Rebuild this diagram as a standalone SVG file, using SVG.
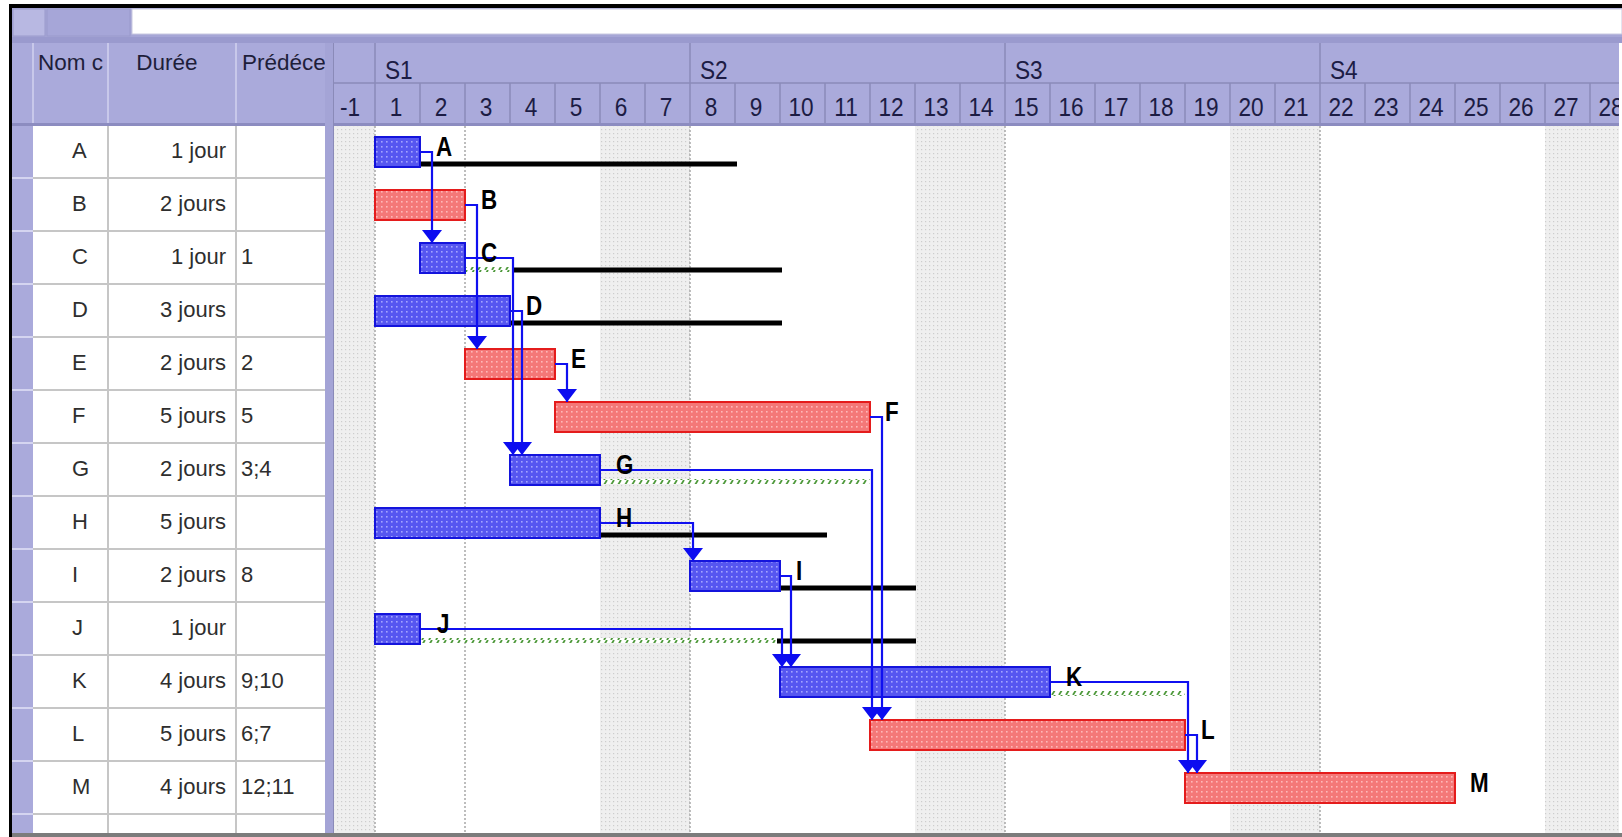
<svg xmlns="http://www.w3.org/2000/svg" width="1622" height="837" viewBox="0 0 1622 837">
<style>
  .cell{font-family:"Liberation Sans",Arial,sans-serif;font-size:22px;fill:#2e2e2e}
  .hdr{font-family:"Liberation Sans",Arial,sans-serif;font-size:22.5px;fill:#1e1e3a}
  .ts{font-family:"Liberation Sans",Arial,sans-serif;font-size:26px;fill:#1c1c44}
  .lbl{font-family:"Liberation Sans",Arial,sans-serif;font-size:28px;font-weight:bold;fill:#000}
  .bb{fill:url(#blueDots);stroke:#1414dc;stroke-width:2}
  .rb{fill:url(#redDots);stroke:#e41c1c;stroke-width:2}
  .slack{stroke:#000;stroke-width:5}
  .free{fill:url(#freeSlack)}
  .link{fill:none;stroke:#1010f0;stroke-width:2.2;marker-end:url(#arr)}
  .grid{stroke:#c6c6c6;stroke-width:2}
  .wk{fill:url(#weekend)}
  .dot{stroke:#a8a8a8;stroke-width:1.5;stroke-dasharray:2 2}
  .purple{fill:#aaaadb}
  .tick{stroke:#8a8ab8;stroke-width:1.5}
</style>
<defs>
  <pattern id="blueDots" width="5" height="5" patternUnits="userSpaceOnUse">
    <rect width="5" height="5" fill="#5656f0"/>
    <rect x="1" y="1" width="1.6" height="1.6" fill="#a4a4ff"/>
  </pattern>
  <pattern id="redDots" width="5" height="5" patternUnits="userSpaceOnUse">
    <rect width="5" height="5" fill="#f47878"/>
    <rect x="1" y="1" width="1.6" height="1.6" fill="#ffb8b8"/>
  </pattern>
  <pattern id="weekend" width="4" height="4" patternUnits="userSpaceOnUse">
    <rect width="4" height="4" fill="#efefef"/>
    <rect x="1" y="1" width="1.2" height="1.2" fill="#cdcdcd"/>
  </pattern>
  <pattern id="freeSlack" width="7" height="5" patternUnits="userSpaceOnUse">
    <rect width="7" height="5" fill="#ffffff"/>
    <path d="M2 5 L5 0" stroke="#4f9a3c" stroke-width="1.8"/>
  </pattern>
  <marker id="arr" viewBox="0 0 13 20" markerWidth="13" markerHeight="20" refX="13" refY="10" orient="auto" markerUnits="userSpaceOnUse">
    <path d="M0 0 L13 10 L0 20 Z" fill="#0c0cf0"/>
  </marker>
  <clipPath id="clipPred"><rect x="236" y="43" width="89" height="80"/></clipPath>
  <clipPath id="clipName"><rect x="33" y="43" width="74" height="80"/></clipPath>
  <clipPath id="clipGantt"><rect x="334" y="0" width="1285" height="837"/></clipPath>
</defs>

<rect width="1622" height="837" fill="#ffffff"/>

<!-- window frame and entry bar -->
<g id="frame">
  <rect x="9" y="4" width="1613" height="4" fill="#000"/>
  <rect x="9" y="4" width="3" height="833" fill="#000"/>
  <rect x="12" y="8" width="1610" height="35" fill="#a6a6d6"/>
  <rect x="13" y="9" width="32" height="27" fill="#b8b8e2" stroke="#9a9acc" stroke-width="1"/>
  <rect x="47" y="9" width="83" height="27" fill="#a6a6d8" stroke="#9a9acc" stroke-width="1"/>
  <rect x="132" y="9" width="1490" height="25" fill="#ffffff" stroke="#c8c8e0" stroke-width="1"/>
  <rect x="12" y="37" width="1610" height="6" fill="#9a9ace"/>
  <rect x="12" y="833" width="1610" height="4" fill="#7c7c7c"/>
</g>

<!-- task table -->
<g id="table">
  <rect x="12" y="43" width="313" height="80" class="purple"/>
  <rect x="12" y="123" width="313" height="3" fill="#8c8cc0"/>
  <g stroke="#c8c8ea" stroke-width="2">
    <line x1="33" y1="43" x2="33" y2="123"/>
    <line x1="108" y1="43" x2="108" y2="123"/>
    <line x1="236" y1="43" x2="236" y2="123"/>
  </g>
  <text class="hdr" x="38" y="70" clip-path="url(#clipName)">Nom c</text>
  <text class="hdr" x="167" y="70" text-anchor="middle">Durée</text>
  <text class="hdr" x="242" y="70" clip-path="url(#clipPred)">Prédéce</text>

  <rect x="12" y="126" width="21" height="707" class="purple"/>
  <g stroke="#d4d4f0" stroke-width="2">
    <line x1="12" y1="178" x2="33" y2="178"/><line x1="12" y1="231" x2="33" y2="231"/>
    <line x1="12" y1="284" x2="33" y2="284"/><line x1="12" y1="337" x2="33" y2="337"/>
    <line x1="12" y1="390" x2="33" y2="390"/><line x1="12" y1="443" x2="33" y2="443"/>
    <line x1="12" y1="496" x2="33" y2="496"/><line x1="12" y1="549" x2="33" y2="549"/>
    <line x1="12" y1="602" x2="33" y2="602"/><line x1="12" y1="655" x2="33" y2="655"/>
    <line x1="12" y1="708" x2="33" y2="708"/><line x1="12" y1="761" x2="33" y2="761"/>
    <line x1="12" y1="814" x2="33" y2="814"/>
  </g>
  <g class="grid">
    <line x1="108" y1="126" x2="108" y2="833"/>
    <line x1="236" y1="126" x2="236" y2="833"/>
    <line x1="33" y1="178" x2="325" y2="178"/><line x1="33" y1="231" x2="325" y2="231"/>
    <line x1="33" y1="284" x2="325" y2="284"/><line x1="33" y1="337" x2="325" y2="337"/>
    <line x1="33" y1="390" x2="325" y2="390"/><line x1="33" y1="443" x2="325" y2="443"/>
    <line x1="33" y1="496" x2="325" y2="496"/><line x1="33" y1="549" x2="325" y2="549"/>
    <line x1="33" y1="602" x2="325" y2="602"/><line x1="33" y1="655" x2="325" y2="655"/>
    <line x1="33" y1="708" x2="325" y2="708"/><line x1="33" y1="761" x2="325" y2="761"/>
    <line x1="33" y1="814" x2="325" y2="814"/>
  </g>
  <g class="cell">
    <text x="72" y="158">A</text><text x="226" y="158" text-anchor="end">1 jour</text>
    <text x="72" y="211">B</text><text x="226" y="211" text-anchor="end">2 jours</text>
    <text x="72" y="264">C</text><text x="226" y="264" text-anchor="end">1 jour</text><text x="241" y="264">1</text>
    <text x="72" y="317">D</text><text x="226" y="317" text-anchor="end">3 jours</text>
    <text x="72" y="370">E</text><text x="226" y="370" text-anchor="end">2 jours</text><text x="241" y="370">2</text>
    <text x="72" y="423">F</text><text x="226" y="423" text-anchor="end">5 jours</text><text x="241" y="423">5</text>
    <text x="72" y="476">G</text><text x="226" y="476" text-anchor="end">2 jours</text><text x="241" y="476">3;4</text>
    <text x="72" y="529">H</text><text x="226" y="529" text-anchor="end">5 jours</text>
    <text x="72" y="582">I</text><text x="226" y="582" text-anchor="end">2 jours</text><text x="241" y="582">8</text>
    <text x="72" y="635">J</text><text x="226" y="635" text-anchor="end">1 jour</text>
    <text x="72" y="688">K</text><text x="226" y="688" text-anchor="end">4 jours</text><text x="241" y="688">9;10</text>
    <text x="72" y="741">L</text><text x="226" y="741" text-anchor="end">5 jours</text><text x="241" y="741">6;7</text>
    <text x="72" y="794">M</text><text x="226" y="794" text-anchor="end">4 jours</text><text x="241" y="794">12;11</text>
  </g>
</g>

<!-- splitter between table and chart -->
<g id="splitter">
  <rect x="325" y="43" width="9" height="790" fill="#a4a4d6"/>
  <line x1="333.5" y1="43" x2="333.5" y2="833" stroke="#8a8ab8" stroke-width="1"/>
</g>

<g clip-path="url(#clipGantt)">
<!-- timescale -->
<g id="timescale">
  <rect x="334" y="43" width="1288" height="80" class="purple"/>
  <rect x="334" y="123" width="1288" height="3" fill="#8c8cc0"/>
  <line x1="334" y1="83" x2="1622" y2="83" class="tick"/>
  <g class="tick">
    <line x1="375" y1="43" x2="375" y2="123"/><line x1="690" y1="43" x2="690" y2="123"/>
    <line x1="1005" y1="43" x2="1005" y2="123"/><line x1="1320" y1="43" x2="1320" y2="123"/>
    <line x1="420" y1="83" x2="420" y2="123"/><line x1="465" y1="83" x2="465" y2="123"/>
    <line x1="510" y1="83" x2="510" y2="123"/><line x1="555" y1="83" x2="555" y2="123"/>
    <line x1="600" y1="83" x2="600" y2="123"/><line x1="645" y1="83" x2="645" y2="123"/>
    <line x1="735" y1="83" x2="735" y2="123"/><line x1="780" y1="83" x2="780" y2="123"/>
    <line x1="825" y1="83" x2="825" y2="123"/><line x1="870" y1="83" x2="870" y2="123"/>
    <line x1="915" y1="83" x2="915" y2="123"/><line x1="960" y1="83" x2="960" y2="123"/>
    <line x1="1050" y1="83" x2="1050" y2="123"/><line x1="1095" y1="83" x2="1095" y2="123"/>
    <line x1="1140" y1="83" x2="1140" y2="123"/><line x1="1185" y1="83" x2="1185" y2="123"/>
    <line x1="1230" y1="83" x2="1230" y2="123"/><line x1="1275" y1="83" x2="1275" y2="123"/>
    <line x1="1365" y1="83" x2="1365" y2="123"/><line x1="1410" y1="83" x2="1410" y2="123"/>
    <line x1="1455" y1="83" x2="1455" y2="123"/><line x1="1500" y1="83" x2="1500" y2="123"/>
    <line x1="1545" y1="83" x2="1545" y2="123"/><line x1="1590" y1="83" x2="1590" y2="123"/>
  </g>
  <g class="ts">
    <text transform="translate(385 79) scale(.87 1)">S1</text>
    <text transform="translate(700 79) scale(.87 1)">S2</text>
    <text transform="translate(1015 79) scale(.87 1)">S3</text>
    <text transform="translate(1330 79) scale(.87 1)">S4</text>
  </g>
  <g class="ts" text-anchor="middle">
    <text transform="translate(350 116) scale(.87 1)">-1</text>
    <text transform="translate(396 116) scale(.87 1)">1</text>
    <text transform="translate(441 116) scale(.87 1)">2</text>
    <text transform="translate(486 116) scale(.87 1)">3</text>
    <text transform="translate(531 116) scale(.87 1)">4</text>
    <text transform="translate(576 116) scale(.87 1)">5</text>
    <text transform="translate(621 116) scale(.87 1)">6</text>
    <text transform="translate(666 116) scale(.87 1)">7</text>
    <text transform="translate(711 116) scale(.87 1)">8</text>
    <text transform="translate(756 116) scale(.87 1)">9</text>
    <text transform="translate(801 116) scale(.87 1)">10</text>
    <text transform="translate(846 116) scale(.87 1)">11</text>
    <text transform="translate(891 116) scale(.87 1)">12</text>
    <text transform="translate(936 116) scale(.87 1)">13</text>
    <text transform="translate(981 116) scale(.87 1)">14</text>
    <text transform="translate(1026 116) scale(.87 1)">15</text>
    <text transform="translate(1071 116) scale(.87 1)">16</text>
    <text transform="translate(1116 116) scale(.87 1)">17</text>
    <text transform="translate(1161 116) scale(.87 1)">18</text>
    <text transform="translate(1206 116) scale(.87 1)">19</text>
    <text transform="translate(1251 116) scale(.87 1)">20</text>
    <text transform="translate(1296 116) scale(.87 1)">21</text>
    <text transform="translate(1341 116) scale(.87 1)">22</text>
    <text transform="translate(1386 116) scale(.87 1)">23</text>
    <text transform="translate(1431 116) scale(.87 1)">24</text>
    <text transform="translate(1476 116) scale(.87 1)">25</text>
    <text transform="translate(1521 116) scale(.87 1)">26</text>
    <text transform="translate(1566 116) scale(.87 1)">27</text>
    <text transform="translate(1611 116) scale(.87 1)">28</text>
  </g>
</g>

<!-- non-working days and date lines -->
<g id="calendar">
  <rect x="334" y="126" width="41" height="707" class="wk"/>
  <rect x="600" y="126" width="90" height="707" class="wk"/>
  <rect x="915" y="126" width="90" height="707" class="wk"/>
  <rect x="1230" y="126" width="90" height="707" class="wk"/>
  <rect x="1545" y="126" width="77" height="707" class="wk"/>
  <line x1="375" y1="126" x2="375" y2="833" class="dot"/>
  <line x1="465" y1="126" x2="465" y2="833" class="dot"/>
  <line x1="690" y1="126" x2="690" y2="833" class="dot"/>
  <line x1="1005" y1="126" x2="1005" y2="833" class="dot"/>
  <line x1="1320" y1="126" x2="1320" y2="833" class="dot"/>
</g>

<!-- slack lines -->
<g id="slack">
  <line x1="420" y1="164" x2="737" y2="164" class="slack"/>
  <rect x="465" y="267" width="47" height="5" class="free"/>
  <line x1="512" y1="270" x2="782" y2="270" class="slack"/>
  <line x1="510" y1="323" x2="782" y2="323" class="slack"/>
  <rect x="600" y="479" width="270" height="5" class="free"/>
  <line x1="600" y1="535" x2="827" y2="535" class="slack"/>
  <line x1="780" y1="588" x2="916" y2="588" class="slack"/>
  <rect x="420" y="638" width="357" height="5" class="free"/>
  <line x1="777" y1="641" x2="916" y2="641" class="slack"/>
  <rect x="1050" y="691" width="135" height="5" class="free"/>
</g>

<!-- task bars -->
<g id="task-A"><rect x="375" y="137" width="45" height="30" class="bb"/></g>
<g id="task-B"><rect x="375" y="190" width="90" height="30" class="rb"/></g>
<g id="task-C"><rect x="420" y="243" width="45" height="30" class="bb"/></g>
<g id="task-D"><rect x="375" y="296" width="135" height="30" class="bb"/></g>
<g id="task-E"><rect x="465" y="349" width="90" height="30" class="rb"/></g>
<g id="task-F"><rect x="555" y="402" width="315" height="30" class="rb"/></g>
<g id="task-G"><rect x="510" y="455" width="90" height="30" class="bb"/></g>
<g id="task-H"><rect x="375" y="508" width="225" height="30" class="bb"/></g>
<g id="task-I"><rect x="690" y="561" width="90" height="30" class="bb"/></g>
<g id="task-J"><rect x="375" y="614" width="45" height="30" class="bb"/></g>
<g id="task-K"><rect x="780" y="667" width="270" height="30" class="bb"/></g>
<g id="task-L"><rect x="870" y="720" width="315" height="30" class="rb"/></g>
<g id="task-M"><rect x="1185" y="773" width="270" height="30" class="rb"/></g>

<!-- finish-to-start links -->
<g id="connectors">
  <path class="link" d="M420 152 H432 V243"/>
  <path class="link" d="M465 205 H477 V349"/>
  <path class="link" d="M465 258 H513 V455"/>
  <path class="link" d="M510 311 H522 V455"/>
  <path class="link" d="M555 364 H567 V402"/>
  <path class="link" d="M870 417 H882 V720"/>
  <path class="link" d="M600 470 H872 V720"/>
  <path class="link" d="M600 523 H693 V561"/>
  <path class="link" d="M780 576 H791 V667"/>
  <path class="link" d="M420 629 H782 V667"/>
  <path class="link" d="M1050 682 H1188 V773"/>
  <path class="link" d="M1185 735 H1197 V773"/>
</g>

<!-- bar labels -->
<g id="labels" class="lbl">
  <text transform="translate(436 156) scale(.8 1)">A</text>
  <text transform="translate(481 209) scale(.8 1)">B</text>
  <text transform="translate(481 262) scale(.8 1)">C</text>
  <text transform="translate(526 315) scale(.8 1)">D</text>
  <text transform="translate(571 368) scale(.8 1)">E</text>
  <text transform="translate(885 421) scale(.8 1)">F</text>
  <text transform="translate(616 474) scale(.8 1)">G</text>
  <text transform="translate(616 527) scale(.8 1)">H</text>
  <text transform="translate(796 580) scale(.8 1)">I</text>
  <text transform="translate(437 633) scale(.8 1)">J</text>
  <text transform="translate(1066 686) scale(.8 1)">K</text>
  <text transform="translate(1201 739) scale(.8 1)">L</text>
  <text transform="translate(1470 792) scale(.8 1)">M</text>
</g>
</g>
</svg>
